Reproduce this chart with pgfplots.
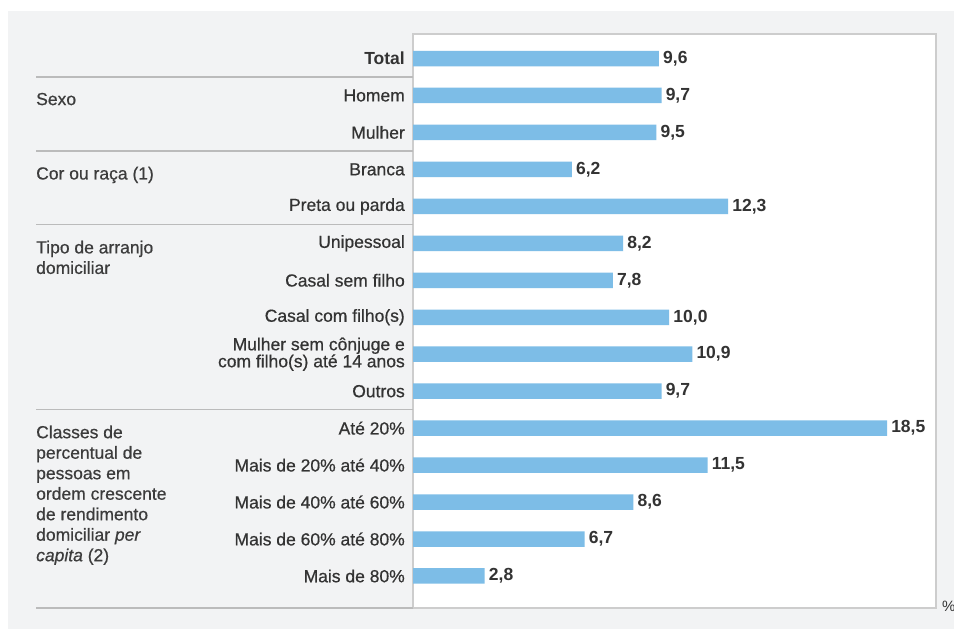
\documentclass[border=0pt]{standalone}
\usepackage{fontspec}
\setmainfont{Liberation Sans}
\newfontfamily\medium[FakeBold=0.6]{Liberation Sans}
\usepackage{pgfplots}
\usepackage{pgfplotstable}
\pgfplotsset{compat=1.18}

\definecolor{bg}{HTML}{F2F3F4}
\definecolor{barblue}{HTML}{7DBDE7}
\definecolor{framegray}{HTML}{CDCDCD}
\definecolor{rulegray}{HTML}{BBBBBB}
\definecolor{txt}{HTML}{333333}
\definecolor{grptxt}{HTML}{3C3C3C}

% taxa por grupo, linha 0 = Total
\pgfplotstableread{
idx val
0  9.6
1  9.7
2  9.5
3  6.2
4  12.3
5  8.2
6  7.8
7  10.0
8  10.9
9  9.7
10 18.5
11 11.5
12 8.6
13 6.7
14 2.8
}\taxas

\newcommand{\lbl}{\fontsize{17.5bp}{20.5bp}\selectfont}

\begin{document}
\begin{tikzpicture}
  \useasboundingbox (0,0) rectangle (954bp,629bp);
  \fill[white] (0,0) rectangle (954bp,629bp);
  \fill[bg] (8bp,0) rectangle (954bp,618bp);
  \begin{axis}[
      at={(413bp,21bp)}, anchor=south west,
      scale only axis, width=523bp, height=574bp,
      xbar, bar width=15.5bp,
      xmin=0, xmax=20.41,
      ymin=-0.663, ymax=14.866, y dir=reverse,
      axis background/.style={fill=white},
      axis line style={framegray, line width=1.2bp},
      xtick=\empty,
      ytick={0,...,14},
      yticklabels={{\normalfont\lbl\bfseries Total}, Homem, Mulher, Branca, Preta ou parda,
        Unipessoal, Casal sem filho, Casal com filho(s),
        {Mulher sem cônjuge e\\[-3.5bp]com filho(s) até 14 anos}, Outros,
        Até 20\%, Mais de 20\% até 40\%, Mais de 40\% até 60\%,
        Mais de 60\% até 80\%, Mais de 80\%},
      major tick length=0pt,
      yticklabel style={font=\medium\lbl, text=txt, inner sep=0pt, xshift=-8bp, align=right},
      point meta=x,
      nodes near coords={\pgfmathprintnumber[fixed,fixed zerofill,precision=1,use comma]{\pgfplotspointmeta}},
      nodes near coords style={font=\lbl\bfseries, text=txt, anchor=west, inner sep=0pt, xshift=4bp},
      /pgf/number format/assume math mode=true,
      clip=false,
    ]
    \addplot[fill=barblue, draw=none] table[x=val, y=idx] {\taxas};

    % separadores do painel esquerdo
    \draw[rulegray, line width=1.2bp] (axis cs:0,0.5) -- ([xshift=-377bp]axis cs:0,0.5);
    \draw[rulegray, line width=1.2bp] (axis cs:0,2.5) -- ([xshift=-377bp]axis cs:0,2.5);
    \draw[rulegray, line width=1.2bp] (axis cs:0,4.5) -- ([xshift=-377bp]axis cs:0,4.5);
    \draw[rulegray, line width=1.2bp] (axis cs:0,9.5) -- ([xshift=-377bp]axis cs:0,9.5);
    \draw[rulegray, line width=1.2bp] (axis cs:0,14.866) -- ([xshift=-377bp]axis cs:0,14.866);

    % rótulos dos grupos
    \node[anchor=north west, inner sep=0pt, align=left, font=\medium\lbl, text=grptxt, xshift=-377bp, yshift=2.8bp] at (axis cs:0,1) {Sexo};
    \node[anchor=north west, inner sep=0pt, align=left, font=\medium\lbl, text=grptxt, xshift=-377bp, yshift=2.8bp] at (axis cs:0,3) {Cor ou raça (1)};
    \node[anchor=north west, inner sep=0pt, align=left, font=\medium\lbl, text=grptxt, xshift=-377bp, yshift=2.8bp] at (axis cs:0,5) {Tipo de arranjo\\domiciliar};
    \node[anchor=north west, inner sep=0pt, align=left, font=\medium\lbl, text=grptxt, xshift=-377bp, yshift=2.8bp] at (axis cs:0,10)
      {Classes de\\percentual de\\pessoas em\\ordem crescente\\de rendimento\\domiciliar {\itshape per}\\{\itshape capita} (2)};

    \node[anchor=base west, inner sep=0pt, font=\fontsize{15bp}{18bp}\selectfont, text=txt, xshift=6bp, yshift=-3bp] at (axis cs:20.41,14.866) {\%};
  \end{axis}
\end{tikzpicture}
\end{document}
